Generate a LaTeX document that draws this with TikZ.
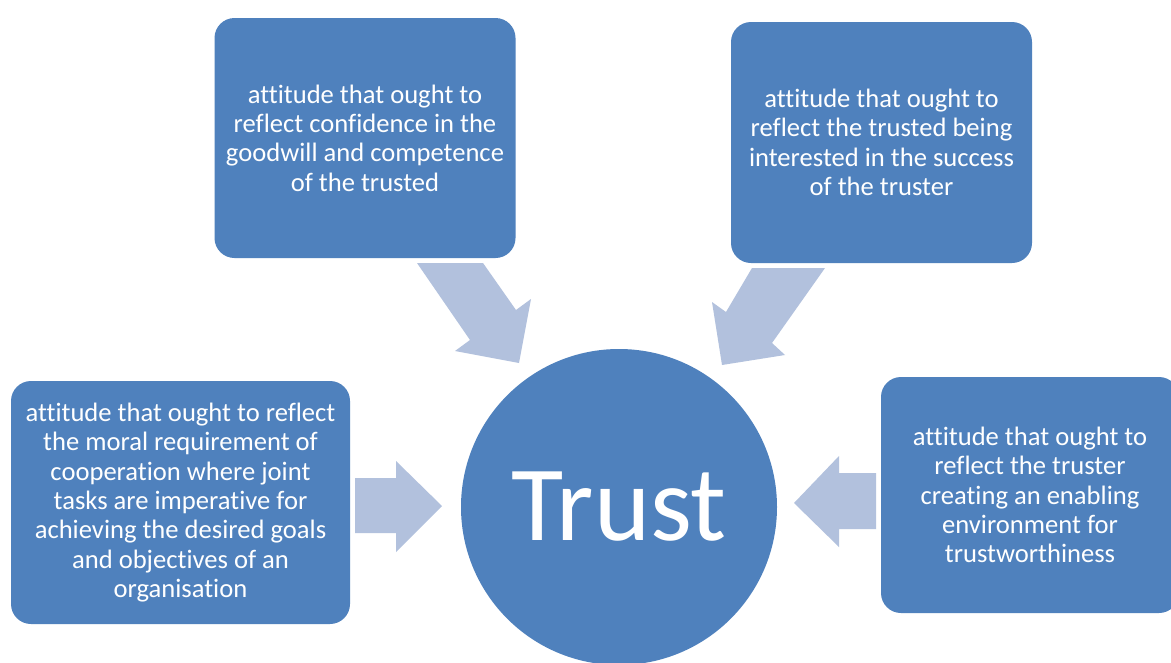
\documentclass[tikz,border=0pt]{standalone}
\usepackage{fontspec}
\setmainfont{Carlito}[Ligatures={NoCommon}]
\definecolor{boxblue}{HTML}{4F81BD}
\definecolor{arrowblue}{HTML}{B2C1DD}
\tikzset{
  box/.style={fill=boxblue, rounded corners=20pt, inner sep=0pt, text=white,
    align=center, font=\fontsize{26.6}{29.3}\selectfont},
  blockarrow/.style={fill=arrowblue, draw=none},
}
\begin{document}
\begin{tikzpicture}[x=1pt,y=-1pt]
\useasboundingbox (0,0) rectangle (1171,662);
\fill[white] (0,0) rectangle (1171,662);
% arrows
\fill[blockarrow] (417,263) -- (483,263) -- (516,310) -- (531,299) -- (519,363) -- (455,351) -- (470,340) -- cycle;
\fill[blockarrow] (752,268) -- (825,268) -- (772,343) -- (785,355) -- (722,365) -- (712,302) -- (726,312) -- cycle;
\fill[blockarrow] (355,478) -- (396,478) -- (396,461) -- (442,506) -- (396,552) -- (396,533) -- (355,533) -- cycle;
\fill[blockarrow] (876,473) -- (839,473) -- (839,456) -- (794,503) -- (839,547) -- (839,529) -- (876,529) -- cycle;
% boxes
\node[box, minimum width=301pt, minimum height=240pt] (tl) at (365,138)
  {attitude that ought to\\reflect confidence in the\\goodwill and competence\\of the trusted};
\node[box, minimum width=301pt, minimum height=241pt] (tr) at (881.5,142.5)
  {attitude that ought to\\reflect the trusted being\\interested in the success\\of the truster};
\node[box, minimum width=339pt, minimum height=243pt] (l) at (180.5,502.5)
  {attitude that ought to reflect\\the moral requirement of\\cooperation where joint\\tasks are imperative for\\achieving the desired goals\\and objectives of an\\organisation};
\node[box, minimum width=298pt, minimum height=236pt] (r) at (1030,495)
  {attitude that ought to\\reflect the truster\\creating an enabling\\environment for\\trustworthiness};
% circle
\node[circle, fill=boxblue, minimum size=316pt, inner sep=0pt, text=white,
  font=\fontsize{107}{115}\selectfont] (trust) at (619,507) {Trust};
\end{tikzpicture}
\end{document}
